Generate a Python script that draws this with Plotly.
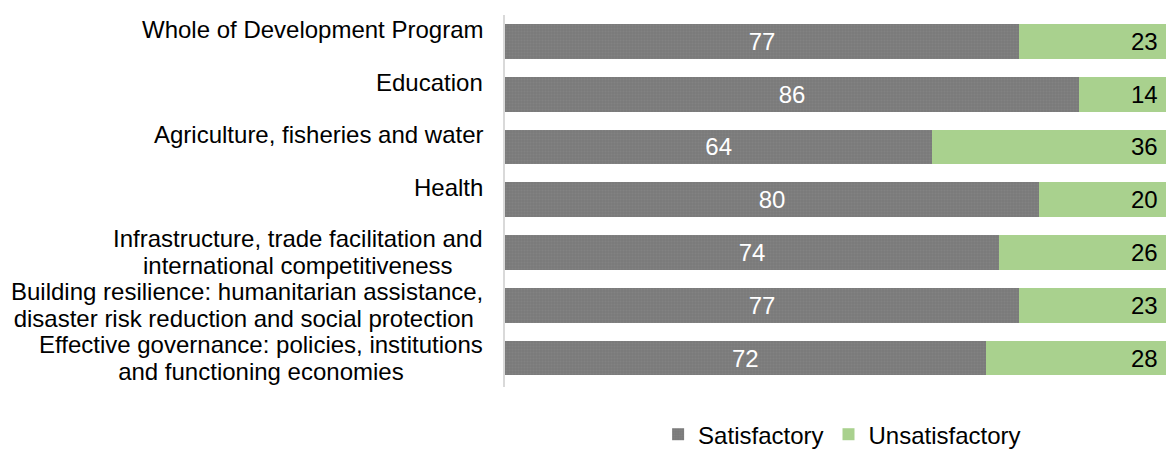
import plotly.graph_objects as go

# Ratings by investment area (percent of investments)
categories = [
    "Whole of Development Program",
    "Education",
    "Agriculture, fisheries and water",
    "Health",
    "Infrastructure, trade facilitation and<br>international competitiveness",
    "Building resilience: humanitarian assistance,<br>disaster risk reduction and social protection ",
    "Effective governance: policies, institutions<br>and functioning economies",
]
satisfactory = [77, 86, 64, 80, 74, 77, 72]
unsatisfactory = [23, 14, 36, 20, 26, 23, 28]

FONT = "Liberation Sans, Arial, sans-serif"
GREY = "#7f7f7f"
GREEN = "#a9d18e"
SIZE = 24
LINE_GAP = 27
# plotly spaces lines at 1.3em of the base font; use a smaller base font and
# restore the glyph size per line so wrapped labels sit closer together
BASE = LINE_GAP / 1.3

fig = go.Figure()

fig.add_trace(go.Bar(
    y=categories,
    x=satisfactory,
    name="Satisfactory",
    orientation="h",
    marker=dict(
        color=GREY,
        line=dict(width=0),
        pattern=dict(shape=".", size=3, solidity=0.35,
                     fgcolor="#8a8a8a", bgcolor="#7a7a7a"),
    ),
    text=[str(v) for v in satisfactory],
    textposition="inside",
    insidetextanchor="middle",
    textfont=dict(family=FONT, size=SIZE, color="white"),
    hoverinfo="skip",
))

fig.add_trace(go.Bar(
    y=categories,
    x=unsatisfactory,
    name="Unsatisfactory",
    orientation="h",
    marker=dict(color=GREEN, line=dict(width=0)),
    hoverinfo="skip",
))

annotations = []
# Category labels to the left of the bars, each label block centred on its bar
for cat in categories:
    lines = cat.split("<br>")
    styled = "<br>".join(
        f'<span style="font-size:{SIZE}px">{ln}</span>' for ln in lines
    )
    annotations.append(dict(
        xref="paper", yref="y", x=0, y=cat,
        xanchor="right", yanchor="middle", align="center",
        xshift=-20, yshift=12 if len(lines) == 1 else 0,
        text=styled, showarrow=False,
        font=dict(family=FONT, size=BASE, color="#000000"),
    ))
# Unsatisfactory values at the right end of each bar
for cat, v in zip(categories, unsatisfactory):
    annotations.append(dict(
        xref="paper", yref="y", x=1, y=cat,
        xanchor="right", yanchor="middle",
        xshift=-6, text=str(v), showarrow=False,
        font=dict(family=FONT, size=SIZE, color="#000000"),
    ))

fig.update_layout(
    width=1166, height=449,
    margin=dict(l=505, r=0, t=15, b=62, autoexpand=False),
    paper_bgcolor="white", plot_bgcolor="white",
    barmode="stack", bargap=0.34,
    font=dict(family=FONT, size=SIZE, color="#000000"),
    xaxis=dict(range=[0, 99], visible=False, fixedrange=True),
    yaxis=dict(autorange="reversed", showticklabels=False, ticks="",
               showgrid=False, zeroline=False,
               showline=True, linecolor="#d9d9d9", linewidth=2),
    showlegend=True,
    legend=dict(orientation="h", traceorder="normal",
                x=0.51, xanchor="center",
                y=-0.128, yanchor="middle",
                font=dict(family=FONT, size=SIZE, color="#000000"),
                bgcolor="rgba(0,0,0,0)"),
    annotations=annotations,
)

fig.write_html("out.html")
